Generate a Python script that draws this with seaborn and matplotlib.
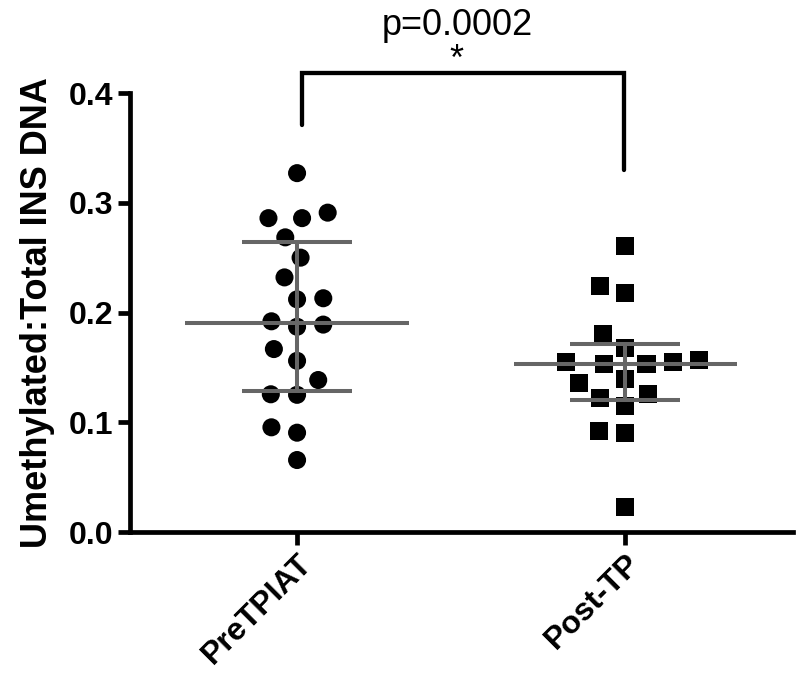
import matplotlib
matplotlib.use("Agg")
import matplotlib.pyplot as plt
import numpy as np
import pandas as pd
import seaborn as sns

# Values.
groups = ["PreTPIAT", "Post-TP"]
pre_tpiat = [0.327, 0.291, 0.286, 0.286, 0.2685, 0.250, 0.232, 0.213, 0.212, 0.192,
             0.189, 0.187, 0.1667, 0.156, 0.1385, 0.1255, 0.125, 0.0954, 0.0905, 0.0656]
post_tp = [0.2606, 0.2241, 0.218, 0.180, 0.168, 0.1567, 0.155, 0.155, 0.1528, 0.1528,
           0.1394, 0.1355, 0.1255, 0.1218, 0.1148, 0.092, 0.0905, 0.023]
y_ticks = [0.0, 0.1, 0.2, 0.3, 0.4]
p_label = "p=0.0002"
star_label = "*"

df = pd.DataFrame({
    "group": [groups[0]] * len(pre_tpiat) + [groups[1]] * len(post_tp),
    "value": pre_tpiat + post_tp,
})

sns.set_style("ticks")
plt.rcParams["font.family"] = ["Liberation Sans", "DejaVu Sans"]
plt.rcParams.update({
    "text.color": "black",
    "axes.labelcolor": "black",
    "axes.edgecolor": "black",
    "xtick.color": "black",
    "ytick.color": "black",
})

fig = plt.figure(figsize=(8, 6.84), dpi=100)
ax = fig.add_axes([0.1625, 0.2222, 0.82875, 0.6418])

# Scatter of each group, circles then squares. An invisible edge keeps the
# swarm looser, like the gaps between points in the original.
for grp, marker in zip(groups, ["o", "s"]):
    sns.swarmplot(data=df[df["group"] == grp], x="group", y="value", order=groups,
                  marker=marker, color="black", size=13, linewidth=5,
                  edgecolor="none", ax=ax, zorder=2)

# Median with interquartile range (Prism style quartiles).
bar_color = "#666666"
for i, grp in enumerate(groups):
    vals = df.loc[df["group"] == grp, "value"].to_numpy()
    q1, med, q3 = np.percentile(vals, [25, 50, 75], method="weibull")
    ax.hlines(med, i - 0.34, i + 0.34, color=bar_color, lw=2.9, zorder=3)
    ax.hlines([q1, q3], i - 0.167, i + 0.167, color=bar_color, lw=2.9, zorder=3)
    ax.vlines(i, q1, q3, color=bar_color, lw=2.9, zorder=3)

ax.set_xlim(-0.509, 1.511)
ax.set_ylim(0, 0.4)
ax.set_yticks(y_ticks)
ax.set_yticklabels([f"{t:.1f}" for t in y_ticks])
ax.set_xlabel("")
ax.set_ylabel("Umethylated:Total INS DNA", fontsize=26, fontweight="bold", labelpad=10)

sns.despine(ax=ax)
for side in ["left", "bottom"]:
    ax.spines[side].set_linewidth(3.4)
ax.tick_params(length=9, width=3.4, labelsize=23, pad=3, color="black")
for lbl in ax.get_yticklabels():
    lbl.set_fontweight("bold")
for lbl in ax.get_xticklabels():
    lbl.set_fontweight("bold")
    lbl.set_rotation(45)
    lbl.set_ha("right")
    lbl.set_va("top")
    lbl.set_rotation_mode("anchor")

# Significance bracket above the groups.
ax.plot([0.016, 0.016, 0.996, 0.996], [0.371, 0.418, 0.418, 0.33], color="black",
        lw=3.1, clip_on=False, solid_joinstyle="miter")
ax.text(0.486, 0.421, star_label, ha="center", va="baseline", fontsize=26, clip_on=False)
ax.text(0.489, 0.4528, p_label, ha="center", va="baseline", fontsize=26, clip_on=False)

fig.savefig("out.png", dpi=100)
